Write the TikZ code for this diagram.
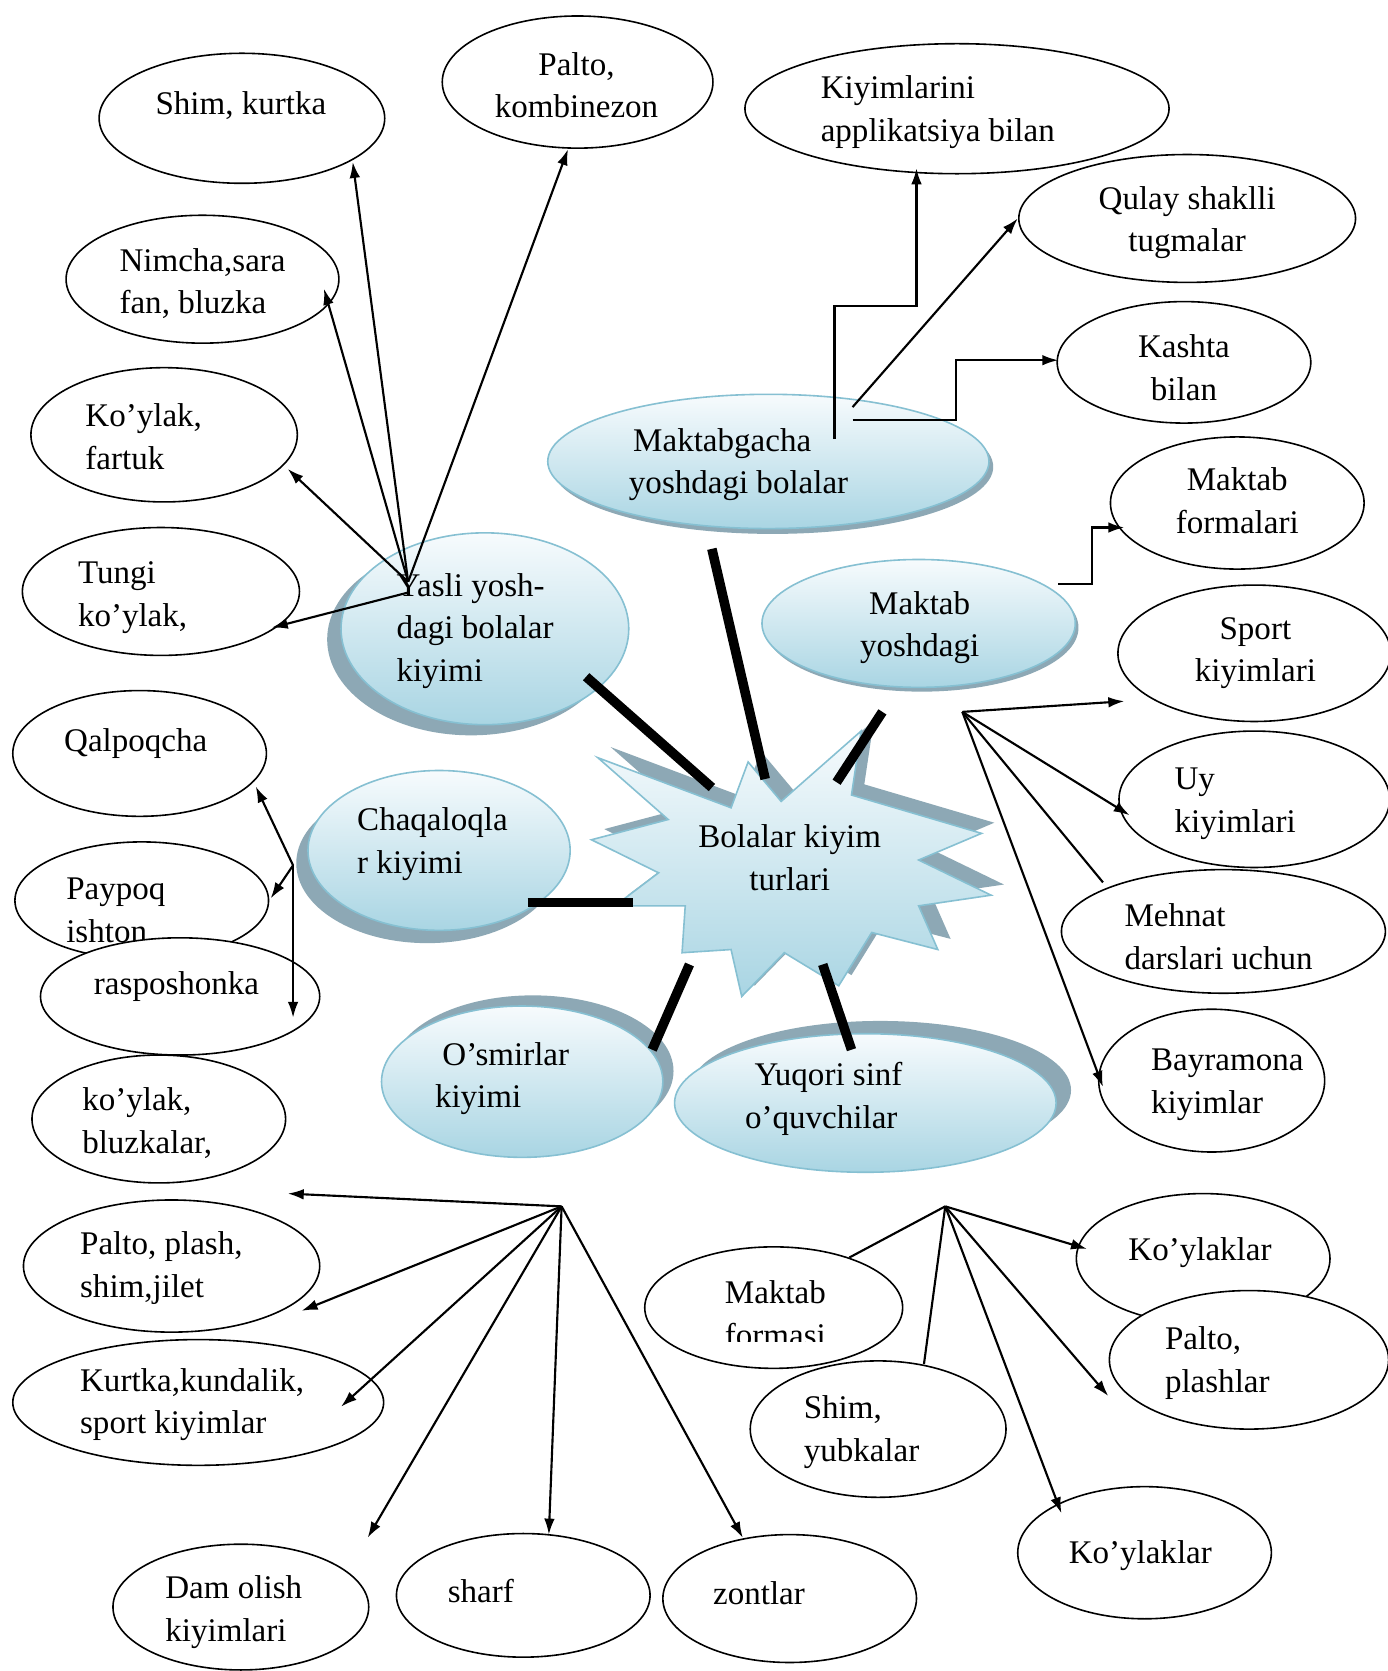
\documentclass[tikz,border=0pt]{standalone}
\usepackage{fontspec}
\setmainfont{Liberation Serif}
\usetikzlibrary{shapes.geometric,arrows.meta}
\definecolor{shadowc}{HTML}{8DA8B5}
\definecolor{bluebot}{HTML}{A9D5E3}
\definecolor{bluetop}{HTML}{F7FBFD}
\definecolor{blueedge}{HTML}{86C0D2}
\tikzset{
  ell/.style={draw=black, line width=1.5pt, fill=white, ellipse, inner sep=0pt},
  blueell/.style={draw=blueedge, line width=1.5pt, ellipse, inner sep=0pt, top color=bluetop, bottom color=bluebot},
  shad/.style={fill=shadowc, draw=none, ellipse, inner sep=0pt},
  txt/.style={font=\fontsize{31}{40}\selectfont, inner sep=0pt, align=left, anchor=west},
  ctxt/.style={font=\fontsize{31}{40}\selectfont, inner sep=0pt, align=center},
  conn/.style={line width=2pt},
  arr/.style={line width=2pt, -{Latex[length=15pt,width=10pt]}},
  barline/.style={line width=9pt, line cap=butt},
}
\begin{document}
\begin{tikzpicture}[x=1pt,y=-1pt]
\useasboundingbox[fill=white] (0,0) rectangle (1302,1568);

% ---------- blue ellipses with shadows ----------
\node[shad, minimum width=414, minimum height=126] (s-mg) at (725,438) {};
\node[blueell, minimum width=414, minimum height=126] (mg) at (721,433) {};
\node[shad, minimum width=270, minimum height=180] (s-yasli) at (442,600) {};
\node[blueell, minimum width=270, minimum height=180] (yasli) at (455,590) {};
\node[shad, minimum width=294, minimum height=120] (s-myosh) at (865,589) {};
\node[blueell, minimum width=294, minimum height=120] (myosh) at (862,585) {};
\node[shad, minimum width=246, minimum height=150] (s-chaq) at (401,810) {};
\node[blueell, minimum width=246, minimum height=150] (chaq) at (412,798) {};
\node[shad, minimum width=264, minimum height=142] (s-osmir) at (500,1005) {};
\node[blueell, minimum width=264, minimum height=142] (osmir) at (490,1015) {};
\node[shad, minimum width=358, minimum height=130] (s-yuq) at (826,1023) {};
\node[blueell, minimum width=358, minimum height=130] (yuq) at (812,1035) {};

% ---------- starburst ----------
\def\starpath{(561,711) -- (686,758) -- (702,715) -- (733,752) -- (808,686) -- (799,746) -- (921,782) -- (862,807) -- (930,840) -- (862,850) -- (880,891) -- (818,875) -- (787,925) -- (736,894) -- (696,935) -- (686,891) -- (640,894) -- (643,850) -- (577,850) -- (618,819) -- (555,788) -- (627,769) -- cycle}
\begin{scope}[shift={(12,-10)}]
  \fill[shadowc] \starpath;
\end{scope}
\draw[blueedge, line width=1.5pt, top color=bluetop, bottom color=bluebot] \starpath;
\coordinate (star) at (741,805);

% ---------- white ellipses ----------
\node[ell, minimum width=268, minimum height=122] (shim) at (227,111) {};
\node[ell, minimum width=254, minimum height=124] (palto) at (542,77) {};
\node[ell, minimum width=398, minimum height=122] (kiy) at (898,102) {};
\node[ell, minimum width=316, minimum height=120] (qulay) at (1114,205) {};
\node[ell, minimum width=238, minimum height=114] (kashta) at (1111,340) {};
\node[ell, minimum width=256, minimum height=120] (nimcha) at (190,262) {};
\node[ell, minimum width=250, minimum height=126] (kfartuk) at (154,408) {};
\node[ell, minimum width=260, minimum height=120] (tungi) at (151,555) {};
\node[ell, minimum width=238, minimum height=124] (mform) at (1161,472) {};
\node[ell, minimum width=256, minimum height=128] (sport) at (1177,613) {};
\node[ell, minimum width=254, minimum height=128] (uy) at (1177,750) {};
\node[ell, minimum width=304, minimum height=116] (mehnat) at (1148,874) {};
\node[ell, minimum width=212, minimum height=134] (bayram) at (1137,1014) {};
\node[ell, minimum width=238, minimum height=118] (qalp) at (131,707) {};
\node[ell, minimum width=238, minimum height=110] (paypoq) at (133,845) {};
\node[txt] (t-paypoq) at (62,854) {Paypoq\\ishton};
\node[ell, minimum width=262, minimum height=110] (rasp) at (169,935) {};
\node[ell, minimum width=238, minimum height=120] (kbluz) at (149,1050) {};
\node[ell, minimum width=278, minimum height=124] (pplash) at (161,1188) {};
\node[ell, minimum width=348, minimum height=118] (kurtka) at (186,1316) {};
\node[ell, minimum width=242, minimum height=114] (mformasi) at (726,1227) {};
\node[ell, minimum width=238, minimum height=122] (koyl1) at (1129,1181) {};
\node[ell, minimum width=262, minimum height=130] (pplashlar) at (1172,1276) {};
\node[ell, minimum width=240, minimum height=128] (shimyub) at (824,1341) {};
\node[ell, minimum width=238, minimum height=124] (koyl2) at (1074,1457) {};
\node[ell, minimum width=240, minimum height=118] (damolish) at (226,1508) {};
\node[ell, minimum width=238, minimum height=116] (sharf) at (491,1497) {};
\node[ell, minimum width=238, minimum height=120] (zontlar) at (741,1500) {};

% ---------- texts ----------
\node[ctxt] (t-shim) at (226,99) {Shim, kurtka};
\node[ctxt] (t-palto) at (541,80) {Palto,\\kombinezon};
\node[txt] (t-kiy) at (770,105) {Kiyimlarini\\applikatsiya bilan};
\node[ctxt] (t-qulay) at (1114,209) {Qulay shaklli\\tugmalar};
\node[ctxt] (t-kashta) at (1111,345) {Kashta\\bilan};
\node[txt] (t-nimcha) at (112,266) {Nimcha,sara\\fan, bluzka};
\node[txt] (t-kfartuk) at (80,410) {Ko’ylak,\\fartuk};
\node[txt] (t-tungi) at (73,561) {Tungi\\ko’ylak,};
\node[txt] (t-mg) at (590,436) {\hspace{4pt}Maktabgacha\\yoshdagi bolalar};
\node[ctxt] (t-mform) at (1161,470) {Maktab\\formalari};
\node[txt] (t-yasli) at (372,592) {Yasli yosh-\\dagi bolalar\\kiyimi};
\node[ctxt] (t-myosh) at (863,589) {Maktab\\yoshdagi};
\node[ctxt] (t-sport) at (1178,613) {Sport\\kiyimlari};
\node[txt] (t-uy) at (1102,754) {Uy\\kiyimlari};
\node[txt] (t-qalp) at (60,698) {Qalpoqcha};
\node[txt] (t-chaq) at (335,792) {Chaqaloqla\\r kiyimi};
\node[ctxt] (t-star) at (star) {Bolalar kiyim\\turlari};
\node[txt] (t-mehnat) at (1055,879) {Mehnat\\darslari uchun};
\node[txt] (t-rasp) at (88,926) {rasposhonka};
\node[txt] (t-osmir) at (408,1012) {\hspace{7pt}O’smirlar\\kiyimi};
\node[txt] (t-yuq) at (699,1031) {\hspace{9pt}Yuqori sinf\\o’quvchilar};
\node[txt] (t-bayram) at (1080,1018) {Bayramona\\kiyimlar};
\node[txt] (t-kbluz) at (77,1054) {ko’ylak,\\bluzkalar,};
\node[txt] (t-pplash) at (75,1190) {Palto, plash,\\shim,jilet};
\node[txt] (t-kurtka) at (75,1318) {Kurtka,kundalik,\\sport kiyimlar};
\begin{scope}
  \clip (600,1150) rectangle (860,1259);
  \node[txt] (t-mformasi) at (680,1233) {Maktab\\formasi};
\end{scope}
\node[ctxt] (t-koyl1) at (1126,1175) {Ko’ylaklar};
\node[txt] (t-pplashlar) at (1093,1279) {Palto,\\plashlar};
\node[txt] (t-shimyub) at (754,1344) {Shim,\\yubkalar};
\node[ctxt] (t-koyl2) at (1070,1460) {Ko’ylaklar};
\node[txt] (t-damolish) at (155,1513) {Dam olish\\kiyimlari};
\node[txt] (t-sharf) at (420,1493) {sharf};
\node[txt] (t-zontlar) at (669,1495) {zontlar};

% ---------- thick links to the centre ----------
\coordinate (b1a) at (550,635);  \coordinate (b1b) at (668,739);
\coordinate (b2a) at (668,515);  \coordinate (b2b) at (718,731);
\coordinate (b3a) at (828,668);  \coordinate (b3b) at (785,734);
\coordinate (b4a) at (495,847);  \coordinate (b4b) at (594,847);
\coordinate (b5a) at (647,905);  \coordinate (b5b) at (612,985);
\coordinate (b6a) at (772,905);  \coordinate (b6b) at (799,985);
\draw[barline] (b1a) -- (b1b);
\draw[barline] (b2a) -- (b2b);
\draw[barline] (b3a) -- (b3b);
\draw[barline] (b4a) -- (b4b);
\draw[barline] (b5a) -- (b5b);
\draw[barline] (b6a) -- (b6b);

% ---------- Yasli hub ----------
\coordinate (hy) at (383,546);
\coordinate (hy2) at (383,556);
\coordinate (tip-shim) at (331,152);
\coordinate (tip-palto) at (533,140);
\coordinate (tip-nimcha) at (304,271);
\coordinate (tip-kfartuk) at (270,440);
\coordinate (tip-tungi) at (255,589);
\draw[arr] (hy) -- (tip-shim);
\draw[arr] (hy) -- (tip-palto);
\draw[arr] (hy) -- (tip-nimcha);
\draw[arr] (hy) -- (tip-kfartuk);
\draw[arr] (hy2) -- (tip-tungi);

% ---------- Maktabgacha ----------
\coordinate (mg1) at (783,412);
\coordinate (mg2) at (800,382);
\coordinate (mg3) at (800,394);
\coordinate (tip-kiy) at (860,158);
\coordinate (tip-qulay) at (955,205);
\coordinate (tip-kashta) at (993,338);
\draw[arr] (mg1) -- (783,287) -- (860,287) -- (tip-kiy);
\draw[arr] (mg2) -- (tip-qulay);
\draw[arr] (mg3) -- (897,394) -- (897,338) -- (tip-kashta);

% ---------- Maktab yoshdagi ----------
\coordinate (my1) at (993,548);
\coordinate (tip-mform) at (1055,495);
\draw[arr] (my1) -- (1025,548) -- (1025,495) -- (tip-mform);
\coordinate (hm) at (903,668);
\coordinate (tip-sport) at (1055,658);
\coordinate (tip-uy) at (1060,765);
\coordinate (end-mehnat) at (1035,828);
\coordinate (tip-bayram) at (1035,1020);
\draw[arr] (hm) -- (tip-sport);
\draw[arr] (hm) -- (tip-uy);
\draw[conn] (hm) -- (end-mehnat);
\draw[arr] (hm) -- (tip-bayram);

% ---------- Chaqaloq hub ----------
\coordinate (hc) at (275,812);
\coordinate (tip-qalp) at (240,738);
\coordinate (tip-paypoq) at (254,843);
\coordinate (tip-rasp) at (275,955);
\draw[arr] (hc) -- (tip-qalp);
\draw[arr] (hc) -- (tip-paypoq);
\draw[arr] (hc) -- (tip-rasp);

% ---------- bottom-left hub ----------
\coordinate (ho) at (527,1132);
\coordinate (tip-kbluz) at (270,1120);
\coordinate (tip-pplash) at (283,1230);
\coordinate (tip-kurtka) at (320,1320);
\coordinate (tip-dam) at (345,1443);
\coordinate (tip-sharf) at (515,1440);
\coordinate (tip-zont) at (697,1443);
\draw[arr] (ho) -- (tip-kbluz);
\draw[arr] (ho) -- (tip-pplash);
\draw[arr] (ho) -- (tip-kurtka);
\draw[arr] (ho) -- (tip-dam);
\draw[arr] (ho) -- (tip-sharf);
\draw[arr] (ho) -- (tip-zont);

% ---------- bottom-right hub ----------
\coordinate (hq) at (887,1132);
\coordinate (end-mformasi) at (797,1180);
\coordinate (end-shimyub) at (867,1280);
\coordinate (tip-koyl1) at (1020,1172);
\coordinate (tip-pplashlar) at (1040,1310);
\coordinate (tip-koyl2) at (996,1420);
\draw[conn] (hq) -- (end-mformasi);
\draw[conn] (hq) -- (end-shimyub);
\draw[arr] (hq) -- (tip-koyl1);
\draw[arr] (hq) -- (tip-pplashlar);
\draw[arr] (hq) -- (tip-koyl2);
\end{tikzpicture}
\end{document}
